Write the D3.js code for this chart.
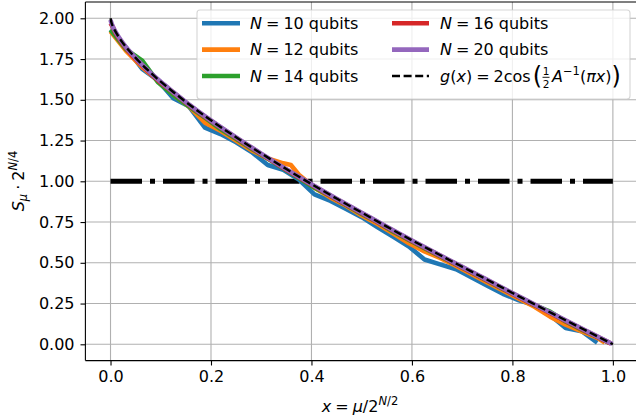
<!DOCTYPE html>
<html><head><meta charset="utf-8">
<script src="https://cdn.jsdelivr.net/npm/d3@7"></script>
<style>body{margin:0;background:#fff}svg{display:block}text{font-family:"DejaVu Sans",sans-serif;fill:#000}</style>
</head><body><svg id="c" width="636" height="417"></svg>
<script>
// ---------- data ----------
const xTicks = [0, 0.2, 0.4, 0.6, 0.8, 1.0];
const xTickLabels = ["0.0", "0.2", "0.4", "0.6", "0.8", "1.0"];
const yTicks = [0, 0.25, 0.5, 0.75, 1.0, 1.25, 1.5, 1.75, 2.0];
const yTickLabels = ["0.00", "0.25", "0.50", "0.75", "1.00", "1.25", "1.50", "1.75", "2.00"];

const seriesLabels = ["10", "12", "14", "16", "20"];
const seriesColors = ["#1f77b4", "#ff7f0e", "#2ca02c", "#d62728", "#9467bd"];

const x10 = [0,0.031,0.063,0.094,0.125,0.156,0.188,0.219,0.25,0.281,0.313,0.344,0.375,0.406,0.438,0.469,0.5,0.531,0.563,0.594,0.625,0.656,0.688,0.719,0.75,0.781,0.813,0.844,0.875,0.906,0.938,0.969];
const y10 = [1.93,1.82,1.69,1.62,1.51,1.46,1.33,1.29,1.24,1.18,1.10,1.07,1.01,0.92,0.88,0.83,0.78,0.72,0.66,0.60,0.52,0.49,0.46,0.41,0.36,0.31,0.27,0.24,0.18,0.10,0.08,0.01];

const x12 = [0,0.031,0.063,0.094,0.125,0.156,0.188,0.219,0.25,0.281,0.313,0.344,0.359,0.375,0.406,0.438,0.469,0.5,0.531,0.563,0.594,0.625,0.656,0.688,0.719,0.75,0.781,0.813,0.844,0.875,0.906,0.938,0.969,0.984];
const y12 = [1.92,1.80,1.70,1.62,1.53,1.46,1.36,1.31,1.25,1.19,1.14,1.11,1.10,1.04,0.96,0.90,0.85,0.79,0.74,0.68,0.62,0.57,0.53,0.48,0.43,0.38,0.33,0.28,0.23,0.17,0.12,0.08,0.04,0.01];

const x14 = [0,0.031,0.063,0.094,0.125,0.156,0.188,0.219,0.25,0.281,0.313,0.344,0.375,0.406,0.438,0.469,0.5,0.531,0.563,0.594,0.625,0.656,0.688,0.719,0.75,0.781,0.813,0.844,0.875,0.906,0.938,0.969,0.992];
const y14 = [1.93,1.81,1.74,1.61,1.53,1.46,1.39,1.32,1.26,1.20,1.14,1.08,1.02,0.96,0.91,0.855,0.80,0.75,0.69,0.64,0.59,0.54,0.49,0.44,0.39,0.34,0.29,0.24,0.20,0.14,0.09,0.045,0.01];

const x16 = [0,0.004,0.01,0.025,0.05,0.075,0.1,0.125,0.15,0.2,0.25,0.3,0.35,0.4,0.45,0.5,0.55,0.6,0.65,0.7,0.75,0.8,0.85,0.9,0.95,0.996];
const y16 = [1.97,1.95,1.91,1.84,1.75,1.675,1.605,1.545,1.483,1.37,1.266,1.167,1.071,0.979,0.89,0.804,0.718,0.634,0.553,0.472,0.392,0.311,0.232,0.153,0.075,0.005];

const x20 = [0,0.001,0.005,0.01,0.025,0.05,0.075,0.1,0.125,0.15,0.2,0.25,0.3,0.35,0.4,0.45,0.5,0.55,0.6,0.65,0.7,0.75,0.8,0.85,0.9,0.95,0.999];
const y20 = [1.99,1.98,1.946,1.917,1.846,1.756,1.679,1.61,1.547,1.486,1.373,1.269,1.170,1.074,0.982,0.893,0.807,0.721,0.637,0.556,0.475,0.395,0.314,0.235,0.156,0.078,0.002];

const gX = [0,0.002,0.005,0.01,0.025,0.05,0.075,0.1,0.125,0.15,0.2,0.25,0.3,0.35,0.4,0.45,0.5,0.55,0.6,0.65,0.7,0.75,0.8,0.85,0.9,0.95,1.0];
const gY = [2.0,1.972,1.948,1.918,1.847,1.757,1.680,1.611,1.548,1.487,1.374,1.270,1.171,1.075,0.983,0.894,0.808,0.722,0.638,0.557,0.476,0.396,0.315,0.236,0.157,0.079,0.0];

const hLineX = [0, 1];
const hLineY = [1, 1];

// ---------- drawing ----------
const svg = d3.select("#c");
const xs = d3.scaleLinear().domain([-0.05, 1.05]).range([85.4, 638]);
const ys = d3.scaleLinear().domain([-0.1, 2.1]).range([360.6, 2.0]);
const FS = 16;
const LW = 4.6;

// grid
const grid = svg.append("g");
xTicks.forEach(t => grid.append("line").attr("x1", xs(t)).attr("x2", xs(t)).attr("y1", ys(2.1)).attr("y2", ys(-0.1))
  .attr("stroke", "#b0b0b0").attr("stroke-width", 1.1));
yTicks.forEach(t => grid.append("line").attr("y1", ys(t)).attr("y2", ys(t)).attr("x1", xs(-0.05)).attr("x2", xs(1.05))
  .attr("stroke", "#b0b0b0").attr("stroke-width", 1.1));

svg.append("clipPath").attr("id", "pa").append("rect")
  .attr("x", 85.4).attr("y", 2).attr("width", 638 - 85.4).attr("height", 360.6 - 2);
const plot = svg.append("g").attr("clip-path", "url(#pa)");

// horizontal dash-dot at 1
plot.append("path").datum(hLineX.map((v, i) => [v, hLineY[i]]))
  .attr("d", d3.line().x(d => xs(d[0])).y(d => ys(d[1])))
  .attr("fill", "none").attr("stroke", "#000").attr("stroke-width", 5)
  .attr("stroke-dasharray", "31.5,8,5,8");

const seriesX = [x10, x12, x14, x16, x20];
const seriesY = [y10, y12, y14, y16, y20];
seriesX.forEach((xa, i) => {
  const pts = xa.map((v, j) => [v, seriesY[i][j]]);
  plot.append("path").datum(pts)
    .attr("d", d3.line().x(d => xs(d[0])).y(d => ys(d[1])).curve(i >= 3 ? d3.curveMonotoneX : d3.curveLinear))
    .attr("fill", "none").attr("stroke", seriesColors[i]).attr("stroke-width", LW)
    .attr("stroke-linejoin", "round").attr("stroke-linecap", "butt");
});

plot.append("path").datum(gX.map((v, i) => [v, gY[i]]))
  .attr("d", d3.line().x(d => xs(d[0])).y(d => ys(d[1])).curve(d3.curveMonotoneX))
  .attr("fill", "none").attr("stroke", "#000").attr("stroke-width", 2.4)
  .attr("stroke-dasharray", "8,3.6");

// spines
svg.append("line").attr("x1", 85.4).attr("x2", 85.4).attr("y1", 2).attr("y2", 360.6).attr("stroke", "#000").attr("stroke-width", 1.1);
svg.append("line").attr("x1", 85.4).attr("x2", 638).attr("y1", 360.6).attr("y2", 360.6).attr("stroke", "#000").attr("stroke-width", 1.1);
svg.append("line").attr("x1", 85.4).attr("x2", 638).attr("y1", 2).attr("y2", 2).attr("stroke", "#000").attr("stroke-width", 1.1);

// axes ticks via d3 axes
const xAxis = d3.axisBottom(xs).tickValues(xTicks).tickFormat((d, i) => xTickLabels[i]).tickSize(4.9).tickPadding(4.9);
const gx = svg.append("g").attr("transform", "translate(0,360.6)").call(xAxis);
gx.select(".domain").remove();
gx.selectAll("line").attr("stroke", "#000").attr("stroke-width", 1.1);
gx.selectAll("text").attr("font-size", FS).attr("font-family", "DejaVu Sans").attr("fill", "#000");

const yAxis = d3.axisLeft(ys).tickValues(yTicks).tickFormat((d, i) => yTickLabels[i]).tickSize(4.9).tickPadding(6);
const gy = svg.append("g").attr("transform", "translate(85.4,0)").call(yAxis);
gy.select(".domain").remove();
gy.selectAll("line").attr("stroke", "#000").attr("stroke-width", 1.1);
gy.selectAll("text").attr("font-size", FS).attr("font-family", "DejaVu Sans").attr("fill", "#000");

// helper to compose math-like text
function compose(parent, x0, y0, pieces) {
  let x = x0;
  pieces.forEach(p => {
    if (p.gap) { x += p.gap; return; }
    const t = parent.append("text").attr("x", x).attr("y", y0 + (p.dy || 0))
      .attr("font-size", p.fs || FS).text(p.t);
    if (p.it) t.attr("font-style", "italic");
    if (p.ff) t.attr("font-family", p.ff);
    x += t.node().getComputedTextLength();
  });
  return x;
}

// x label
const xl = svg.append("g");
const xw = compose(xl, 0, 0, [
  {t: "x", it: 1}, {gap: 4}, {t: "="}, {gap: 4}, {t: "μ", it: 1}, {t: "/2"},
  {t: "N", it: 1, fs: 11.5, dy: -7}, {t: "/2", fs: 11.5, dy: -7}
]);
xl.attr("transform", `translate(${360 - xw / 2},412)`);

// y label
const yl = svg.append("g");
const yw = compose(yl, 0, 0, [
  {t: "S", it: 1}, {t: "μ", it: 1, fs: 11.5, dy: 3}, {gap: 4}, {t: "·"}, {gap: 4}, {t: "2"},
  {t: "N", it: 1, fs: 11.5, dy: -7}, {t: "/4", fs: 11.5, dy: -7}
]);
yl.attr("transform", `translate(24,${181 + yw / 2}) rotate(-90)`);

// legend
const lg = svg.append("g");
lg.append("rect").attr("x", 197).attr("y", 10).attr("width", 433).attr("height", 89).attr("rx", 3)
  .attr("fill", "#fff").attr("fill-opacity", 0.8).attr("stroke", "#cccccc").attr("stroke-opacity", 0.8).attr("stroke-width", 1.1);
const rowsY = [23.3, 49.6, 76];
const colHandle = [[202, 240, 250], [392, 429, 440]];
seriesLabels.forEach((lab, i) => {
  const col = i < 3 ? 0 : 1, row = i < 3 ? i : i - 3;
  const [h0, h1, tx] = colHandle[col];
  const cy = rowsY[row];
  lg.append("line").attr("x1", h0).attr("x2", h1).attr("y1", cy).attr("y2", cy)
    .attr("stroke", seriesColors[i]).attr("stroke-width", LW);
  compose(lg, tx, cy + 5.8, [{t: "N", it: 1}, {gap: 4}, {t: "="}, {gap: 4}, {t: lab + " qubits"}]);
});
// g(x) legend entry
{
  const cy = rowsY[2];
  lg.append("line").attr("x1", 392).attr("x2", 429).attr("y1", cy).attr("y2", cy)
    .attr("stroke", "#000").attr("stroke-width", 2.4).attr("stroke-dasharray", "8,3.6");
  const b = cy + 5.8;
  let x = compose(lg, 440, b, [{t: "g", it: 1}, {t: "("}, {t: "x", it: 1}, {t: ")"}, {gap: 4}, {t: "="}, {gap: 4}, {t: "2cos"}, {gap: 2}]);
  x = compose(lg, x, b + 2, [{t: "(", fs: 24}]);
  // fraction 1/2
  lg.append("text").attr("x", x + 4).attr("y", b - 6.5).attr("font-size", 10.5).attr("text-anchor", "middle").text("1");
  lg.append("text").attr("x", x + 4).attr("y", b + 6).attr("font-size", 10.5).attr("text-anchor", "middle").text("2");
  lg.append("line").attr("x1", x + 0.5).attr("x2", x + 7.5).attr("y1", b - 4.5).attr("y2", b - 4.5).attr("stroke", "#000").attr("stroke-width", 0.9);
  x += 10;
  x = compose(lg, x, b, [{t: "A", it: 1, ff: "DejaVu Serif"}, {t: "−1", fs: 11.5, dy: -7}, {t: "("}, {t: "π", it: 1}, {t: "x", it: 1}, {t: ")"}]);
  compose(lg, x, b + 2, [{t: ")", fs: 24}]);
}
</script>
</body></html>
